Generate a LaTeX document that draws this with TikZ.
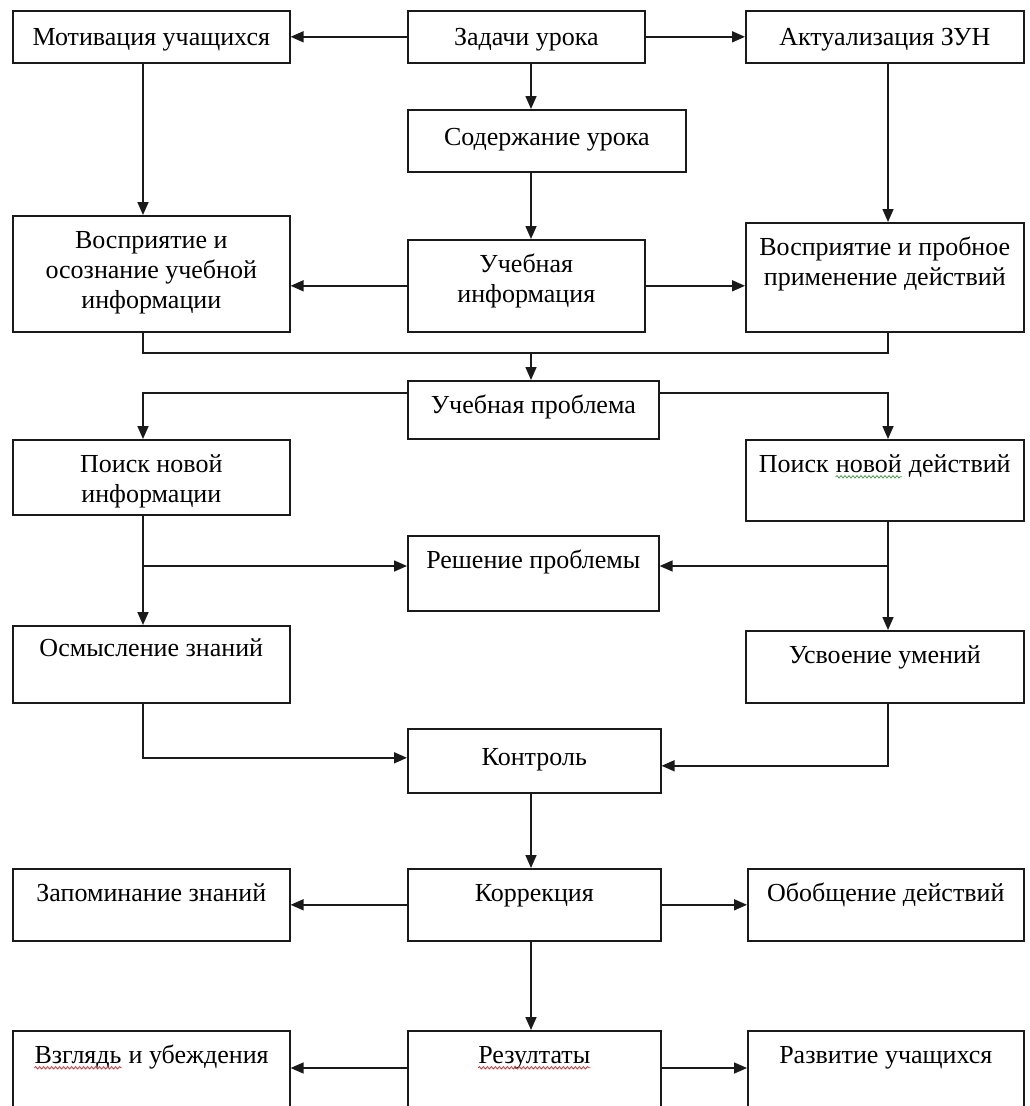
\documentclass[tikz,border=0pt]{standalone}
\usepackage{fontspec}
\setmainfont{Liberation Serif}
\usetikzlibrary{arrows.meta,decorations.pathmorphing}
\definecolor{linec}{HTML}{1A1A1A}
\definecolor{spellred}{HTML}{D03A3A}
\definecolor{spellgreen}{HTML}{4E9A4E}
% text of a box: width, height, first line near the top
\newcommand{\tb}[4][12pt]{\parbox[c][#3][t]{#2}{\vspace*{#1}\centering\strut #4\par}}
% spell-check squiggle under a word
\newcommand{\wavy}[2]{\tikz[baseline=(w.base)]{\node[inner sep=0pt] (w) {#2};
  \draw[#1, line width=0.8pt, decorate, decoration={snake, amplitude=1.2pt, segment length=4pt}]
    ([yshift=-4pt]w.base west) -- ([yshift=-4pt]w.base east);}}
\tikzset{
  blok/.style={draw=linec, line width=1.6pt, rectangle, inner sep=0pt, anchor=north west,
    font=\fontsize{26}{30}\selectfont},
  arr/.style={draw=linec, line width=1.6pt, -{Triangle[length=13pt,width=11pt]}},
  ln/.style={draw=linec, line width=1.6pt}
}
\begin{document}
\begin{tikzpicture}[x=1pt,y=-1pt]
\useasboundingbox (0,0) rectangle (1029,1106);
% columns of the connectors
\coordinate (cl) at (143,0);
\coordinate (cc) at (531,0);
\coordinate (cr) at (888,0);

% row 1
\node[blok] (mot) at (12,10)  {\tb[14pt]{277pt}{52pt}{Мотивация учащихся}};
\node[blok] (zad) at (407,10) {\tb[14pt]{237pt}{52pt}{Задачи урока}};
\node[blok] (akt) at (745,10) {\tb[14pt]{278pt}{52pt}{Актуализация ЗУН}};
\node[blok] (sod) at (407,109) {\tb[15pt]{278pt}{62pt}{Содержание урока}};
% row 2
\node[blok] (vos1) at (12,215)  {\tb{277pt}{116pt}{Восприятие и\\осознание учебной\\информации}};
\node[blok] (uinf) at (407,239) {\tb{237pt}{92pt}{Учебная\\информация}};
\node[blok] (vos2) at (745,222) {\tb{278pt}{109pt}{Восприятие и пробное\\применение действий}};
% problem
\node[blok] (uprob) at (407,380) {\tb{251pt}{58pt}{Учебная проблема}};
\node[blok] (pinf) at (12,439)   {\tb{277pt}{75pt}{Поиск новой\\информации}};
\node[blok] (pdey) at (745,439)  {\tb{278pt}{81pt}{Поиск \wavy{spellgreen}{новой} действий}};
\node[blok] (resh) at (407,535)  {\tb{251pt}{75pt}{Решение проблемы}};
\node[blok] (osm) at (12,625)    {\tb[10pt]{277pt}{77pt}{Осмысление знаний}};
\node[blok] (usv) at (745,630)   {\tb{278pt}{72pt}{Усвоение умений}};
% control
\node[blok] (kontr) at (407,728) {\tb[16pt]{253pt}{64pt}{Контроль}};
\node[blok] (zap) at (12,868)    {\tb{277pt}{72pt}{Запоминание знаний}};
\node[blok] (korr) at (407,868)  {\tb{253pt}{72pt}{Коррекция}};
\node[blok] (obob) at (747,868)  {\tb{276pt}{72pt}{Обобщение действий}};
% results, cut at the lower edge
\node[blok] (vzg) at (12,1030)   {\tb{277pt}{95pt}{\wavy{spellred}{Взглядь} и убеждения}};
\node[blok] (rez) at (407,1030)  {\tb{253pt}{95pt}{\wavy{spellred}{Резултаты}}};
\node[blok] (razv) at (747,1030) {\tb{276pt}{95pt}{Развитие учащихся}};

% connectors
\draw[arr] (zad.west) -- (mot.east);
\draw[arr] (zad.east) -- (akt.west);
\draw[arr] (zad.south -| cc) -- (sod.north -| cc);
\draw[arr] (sod.south -| cc) -- (uinf.north -| cc);
\draw[arr] (mot.south -| cl) -- (vos1.north -| cl);
\draw[arr] (akt.south -| cr) -- (vos2.north -| cr);
\draw[arr] (uinf.west) -- (vos1.east |- uinf.west);
\draw[arr] (uinf.east) -- (vos2.west |- uinf.east);

\coordinate (mrg) at (531,353);
\draw[ln] (vos1.south -| cl) |- (mrg) -| (vos2.south -| cr);
\draw[arr] (mrg) -- (uprob.north -| cc);

\coordinate (p) at (0,393);
\draw[arr] (uprob.west |- p) -| (pinf.north -| cl);
\draw[arr] (uprob.east |- p) -| (pdey.north -| cr);

\coordinate (r) at (0,566);
\draw[arr] (pinf.south -| cl) -- (osm.north -| cl);
\draw[arr] (cl |- r) -- (resh.west |- r);
\draw[arr] (pdey.south -| cr) -- (usv.north -| cr);
\draw[arr] (cr |- r) -- (resh.east |- r);

\draw[arr] (osm.south -| cl) |- ([yshift=3pt]kontr.west);
\draw[arr] (usv.south -| cr) |- ([yshift=-5pt]kontr.east);
\draw[arr] (kontr.south -| cc) -- (korr.north -| cc);
\draw[arr] (korr.west) -- (zap.east);
\draw[arr] (korr.east) -- (obob.west);
\draw[arr] (korr.south -| cc) -- (rez.north -| cc);

\coordinate (q) at (0,1068);
\draw[arr] (rez.west |- q) -- (vzg.east |- q);
\draw[arr] (rez.east |- q) -- (razv.west |- q);
\end{tikzpicture}
\end{document}
